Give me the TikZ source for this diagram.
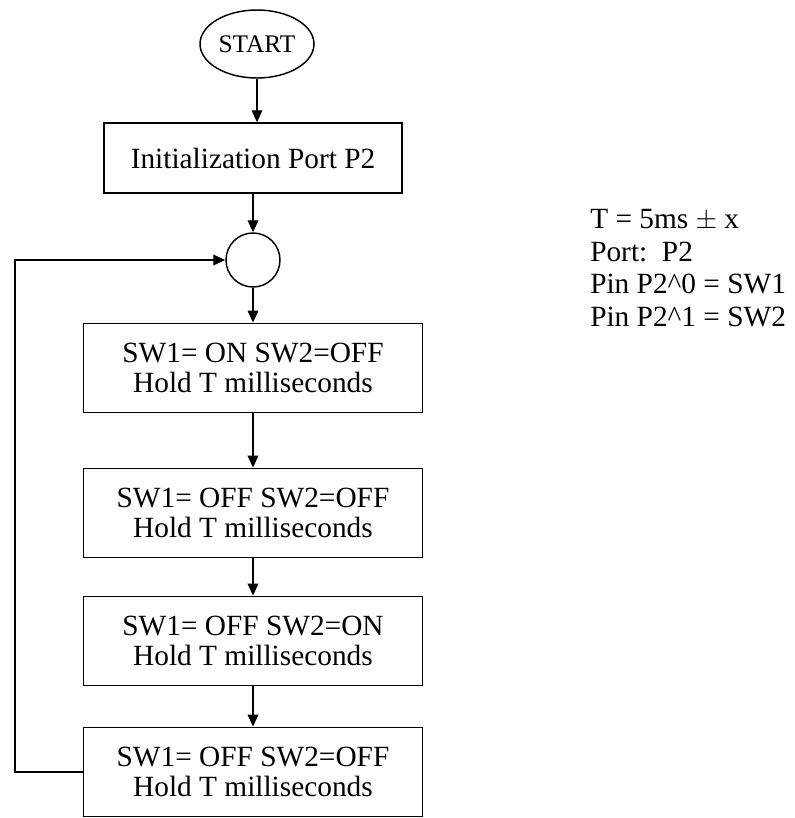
\documentclass[tikz,border=0pt]{standalone}
\usepackage{fontspec}
\setmainfont{Liberation Serif}
\usetikzlibrary{shapes.geometric, arrows.meta, positioning, calc}

\begin{document}
\begin{tikzpicture}[
    x=0.75pt, y=-0.75pt,
    block/.style={rectangle, draw, line width=1.1pt, minimum width=254pt, minimum height=67pt, align=center, inner sep=0pt, font=\fontsize{22}{22.5}\selectfont},
    initblock/.style={block, minimum width=223.5pt, minimum height=52.5pt},
    terminal/.style={ellipse, draw, line width=1.1pt, minimum width=85.5pt, minimum height=51pt, inner sep=0pt, font=\fontsize{19}{20}\selectfont},
    joint/.style={circle, draw, line width=1.1pt, minimum size=40.5pt, inner sep=0pt},
    arrow/.style={-{Triangle[length=9pt,width=8pt]}, line width=1pt},
    note/.style={font=\fontsize{22}{24.5}\selectfont, align=left, inner sep=0pt}
  ]
  \useasboundingbox (0,0) rectangle (794,818);

  % ---- Flujo principal ----
  \node[terminal] (start) at (257,44) {START};
  \node[initblock] (init) at (253,158) {Initialization Port P2};
  \node[joint] (join) at (253,260) {};
  \node[block] (s1) at (253,368) {SW1= ON SW2=OFF\\Hold T milliseconds};
  \node[block] (s2) at (253,513) {SW1= OFF SW2=OFF\\Hold T milliseconds};
  \node[block] (s3) at (253,641) {SW1= OFF SW2=ON\\Hold T milliseconds};
  \node[block] (s4) at (253,772) {SW1= OFF SW2=OFF\\Hold T milliseconds};

  \draw[arrow] (start.south) -- (start.south |- init.north);
  \draw[arrow] (init) -- (join);
  \draw[arrow] (join) -- (s1);
  \draw[arrow] (s1) -- (s2);
  \draw[arrow] (s2) -- (s3);
  \draw[arrow] (s3) -- (s4);

  % Retorno al inicio del ciclo
  \draw[arrow] (s4.west) -- ++(-68,0) |- (join.west);

  % Datos
  \node[note, anchor=west] (data) at (590,268) {T = 5ms $\pm$ x\\Port:~~P2\\Pin P2\textasciicircum0 = SW1\\Pin P2\textasciicircum1 = SW2};
\end{tikzpicture}
\end{document}
